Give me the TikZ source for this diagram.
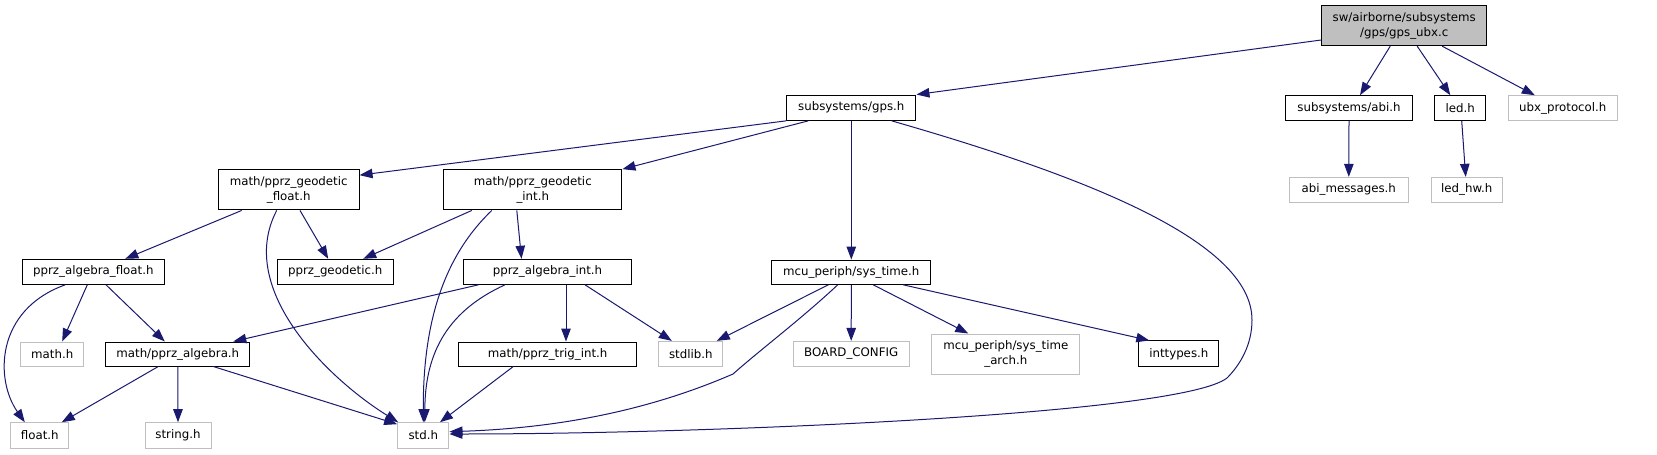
\documentclass[tikz,border=0pt]{standalone}
\usepackage{fontspec}
\setmainfont{DejaVu Sans}
\usetikzlibrary{arrows.meta}
\definecolor{edgec}{RGB}{25,25,112}
\definecolor{greyc}{RGB}{191,191,191}
\begin{document}
\begin{tikzpicture}[x=1pt,y=-1pt,
 box/.style={draw=black, line width=1pt, rectangle, inner sep=0pt, align=center, font=\fontsize{11.8}{15}\selectfont},
 gbox/.style={box, draw=greyc},
 rootbox/.style={box, fill=greyc},
 dep/.style={draw=edgec, line width=1pt, -{Triangle[length=13pt,width=9.5pt]}},
]
\useasboundingbox (0,0) rectangle (1657,455);
% nodes
\node[rootbox, minimum width=165pt, minimum height=40pt] (root) at (1404.2,25.7) {sw/airborne/subsystems\\/gps/gps\_ubx.c};
\node[box, minimum width=126.6pt, minimum height=24.6pt] (abi) at (1349,108) {subsystems/abi.h};
\node[box, minimum width=50.7pt, minimum height=24.6pt] (led) at (1460.3,108) {led.h};
\node[gbox, minimum width=109pt, minimum height=24.6pt] (ubx) at (1562.8,108) {ubx\_protocol.h};
\node[gbox, minimum width=119pt, minimum height=24.7pt] (abimsg) at (1348.8,189.7) {abi\_messages.h};
\node[gbox, minimum width=71.3pt, minimum height=24.7pt] (ledhw) at (1466.7,189.7) {led\_hw.h};
\node[box, minimum width=129.3pt, minimum height=25.3pt] (gps) at (851.3,107.7) {subsystems/gps.h};
\node[box, minimum width=140.7pt, minimum height=40.3pt] (geof) at (288.7,189.8) {math/pprz\_geodetic\\\_float.h};
\node[box, minimum width=178.3pt, minimum height=40.3pt] (geoi) at (532.8,189.8) {math/pprz\_geodetic\\\_int.h};
\node[box, minimum width=142pt, minimum height=25pt] (algf) at (93.3,271.8) {pprz\_algebra\_float.h};
\node[box, minimum width=116.3pt, minimum height=25pt] (geo) at (335.2,271.8) {pprz\_geodetic.h};
\node[box, minimum width=168.4pt, minimum height=25pt] (algi) at (547.5,271.8) {pprz\_algebra\_int.h};
\node[box, minimum width=159.3pt, minimum height=24.3pt] (systime) at (851.3,272.2) {mcu\_periph/sys\_time.h};
\node[gbox, minimum width=63pt, minimum height=24pt] (mathh) at (52.2,354) {math.h};
\node[box, minimum width=144.3pt, minimum height=24pt] (alg) at (177.8,354) {math/pprz\_algebra.h};
\node[box, minimum width=178pt, minimum height=24pt] (trig) at (547.7,354) {math/pprz\_trig\_int.h};
\node[gbox, minimum width=63.7pt, minimum height=24.7pt] (stdlib) at (690.8,353.7) {stdlib.h};
\node[gbox, minimum width=115.7pt, minimum height=24.7pt] (board) at (851.2,353.7) {BOARD\_CONFIG};
\node[gbox, minimum width=148.3pt, minimum height=40pt] (arch) at (1005.8,354) {mcu\_periph/sys\_time\\\_arch.h};
\node[box, minimum width=80.3pt, minimum height=25.7pt] (inttypes) at (1178.8,353.8) {inttypes.h};
\node[gbox, minimum width=58.3pt, minimum height=25.6pt] (floath) at (39.8,435.5) {float.h};
\node[gbox, minimum width=66pt, minimum height=25.6pt] (string) at (178,435.5) {string.h};
\node[gbox, minimum width=51.3pt, minimum height=25.6pt] (std) at (423.3,435.5) {std.h};
% edges
\draw[dep] ([yshift=-14.3]root.west) -- (gps.north east);
\draw[dep] ([xshift=-14]root.south) -- ([xshift=11]abi.north);
\draw[dep] ([xshift=13]root.south) -- ([xshift=-10]led.north);
\draw[dep] ([xshift=38]root.south) -- ([xshift=-28]ubx.north);
\draw[dep] (abi.south) -- (abimsg.north);
\draw[dep] ([xshift=1.4]led.south) -- ([xshift=-1]ledhw.north);
\draw[dep] (gps.south west) -- ([yshift=-6]geof.north east);
\draw[dep] ([xshift=-43]gps.south) -- (geoi.north east);
\draw[dep] (gps.south) -- (systime.north);
\draw[dep] ([xshift=40.4]gps.south) .. controls (1080,175) and (1252,240) .. (1252,320) .. controls (1252,345) and (1240,365) .. (1227,378) .. controls (1180,415) and (700,434) .. ([yshift=1.5]std.east);
\draw[dep] ([xshift=-23]systime.south) -- ([xshift=26]stdlib.north);
\draw[dep] ([xshift=-13.6]systime.south) .. controls (800,320) and (760,350) .. (733,374) .. controls (650,410) and (560,428) .. ([yshift=3.8]std.east);
\draw[dep] (systime.south) -- (board.north);
\draw[dep] ([xshift=22]systime.south) -- ([xshift=-37.5]arch.north);
\draw[dep] ([xshift=52]systime.south) -- ([xshift=-29.5]inttypes.north);
\draw[dep] ([xshift=-47]geof.south) -- ([xshift=32]algf.north);
\draw[dep] ([xshift=-12]geof.south) .. controls (235,290) and (330,380) .. ([xshift=1]std.north west);
\draw[dep] ([xshift=11.3]geof.south) -- ([xshift=-7]geo.north);
\draw[dep] ([xshift=-61]geoi.south) -- ([xshift=28]geo.north);
\draw[dep] ([xshift=-41]geoi.south) .. controls (440,260) and (423,330) .. (std.north);
\draw[dep] ([xshift=-16]geoi.south) -- ([xshift=-26]algi.north);
\draw[dep] ([xshift=-28]algf.south) .. controls (-5,310) and (-5,380) .. ([xshift=-15]floath.north);
\draw[dep] ([xshift=-6]algf.south) -- ([xshift=10]mathh.north);
\draw[dep] ([xshift=12.7]algf.south) -- ([xshift=-13]alg.north);
\draw[dep] ([xshift=-69]algi.south) -- ([xshift=55.5]alg.north);
\draw[dep] ([xshift=-42.5]algi.south) .. controls (450,310) and (425,350) .. ([xshift=1.5]std.north);
\draw[dep] ([xshift=18.5]algi.south) -- ([xshift=18.3]trig.north);
\draw[dep] ([xshift=37.5]algi.south) -- ([xshift=-19]stdlib.north);
\draw[dep] ([xshift=-19.5]alg.south) -- ([xshift=22]floath.north);
\draw[dep] (alg.south) -- (string.north);
\draw[dep] ([xshift=35.5]alg.south) -- ([yshift=-2]std.north west);
\draw[dep] ([xshift=-34.4]trig.south) -- ([xshift=16.7]std.north);
\end{tikzpicture}
\end{document}
